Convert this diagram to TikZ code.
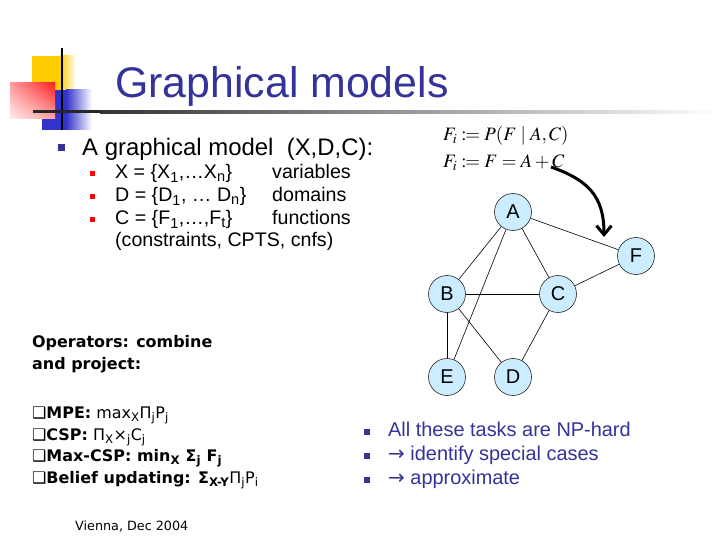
\documentclass[tikz,border=0pt]{standalone}
\usepackage{mathptmx}
\usepackage{mathtools}
\usepackage[no-math]{fontspec}
\setmainfont{Liberation Sans}
\newfontfamily\verdfont{DejaVu Sans}
\usetikzlibrary{arrows.meta, positioning, shadings}
\definecolor{slidenavy}{HTML}{333399}
\definecolor{vertexfill}{HTML}{CCECFF}
\definecolor{logoyellow}{HTML}{FFCC00}
\definecolor{logored}{HTML}{FF2020}
\definecolor{logoblue}{HTML}{3333CC}

\begin{document}
\begin{tikzpicture}[
  x=1bp, y=-1bp,
  vertex/.style={circle, draw=black!85, line width=0.6bp, fill=vertexfill,
    minimum size=37bp, inner sep=0pt, font=\fontsize{20}{20}\selectfont},
  link/.style={line width=0.6bp},
  bodytext/.style={anchor=base west, inner sep=0pt, font=\fontsize{19.7}{22}\selectfont},
  toptext/.style={bodytext, font=\fontsize{24}{28}\selectfont},
  navytext/.style={bodytext, text=slidenavy, font=\fontsize{20}{24}\selectfont},
  optext/.style={anchor=base west, inner sep=0pt, font=\verdfont\fontsize{16}{19}\selectfont},
  formula/.style={anchor=base west, inner sep=0pt, font=\fontsize{19}{22}\selectfont},
  navybullet/.style={fill=slidenavy},
]
\useasboundingbox (0,0) rectangle (720,540);
\fill[white] (0,0) rectangle (720,540);

% Logo in the corner
\fill[logoyellow] (32,56) rectangle (60,90);
\shade[left color=logoyellow, right color=white] (60,56) rectangle (76,90);
\fill[logoblue] (42,90) rectangle (66,130);
\shade[left color=logoblue, right color=white] (66,90) rectangle (92,130);
\shade[upper left=logored!45, upper right=logored, lower left=logored!8, lower right=logored!40]
  (10,83) rectangle (55,119);
\draw[line width=2.5bp] (62,48) -- (62,130);
\fill[black!85] (33,110.5) rectangle (100,113.5);
\shade[left color=black!80, right color=white] (100,110.5) rectangle (720,113.5);

% Title
\node[anchor=base west, inner sep=0pt, text=slidenavy, font=\fontsize{43}{43}\selectfont]
  (title) at (115,98) {Graphical models};

% Definition of the model
\fill[navybullet] (58,144) rectangle (65,151);
\node[toptext] (gm) at (82,156) {A graphical model\ \ (X,D,C):};
\foreach \y in {179,202,225}
  \fill[red] (90,\y-8) rectangle (95,\y-3);
\node[bodytext] (xset) at (115,179) {X = \{X\textsubscript{1},…X\textsubscript{n}\}};
\node[bodytext] (xrole) at (272,179) {variables};
\node[bodytext] (dset) at (115,202) {D = \{D\textsubscript{1}, … D\textsubscript{n}\}};
\node[bodytext] (drole) at (272,202) {domains};
\node[bodytext] (cset) at (115,225) {C = \{F\textsubscript{1},…,F\textsubscript{t}\}};
\node[bodytext] (crole) at (272,225) {functions};
\node[bodytext] (cnote) at (115,247) {(constraints, CPTS, cnfs)};

% Functions on F
\node[formula] (fprob) at (443,141) {$F_i \coloneqq P(F\mid A,C)$};
\node[formula] (fsum) at (443,168) {$F_i \coloneqq F = A+C$};

% Graph
\node[vertex] (A) at (513,212) {A};
\node[vertex] (F) at (636,256) {F};
\node[vertex] (B) at (447,294) {B};
\node[vertex] (C) at (558,294) {C};
\node[vertex] (E) at (447,377) {E};
\node[vertex] (D) at (513,377) {D};
\draw[link] (A) -- (B);
\draw[link] (A) -- (E);
\draw[link] (A) -- (C);
\draw[link] (A) -- (F);
\draw[link] (F) -- (C);
\draw[link] (B) -- (C);
\draw[link] (B) -- (E);
\draw[link] (B) -- (D);
\draw[link] (C) -- (D);

\coordinate (tailpt) at (551,167);
\coordinate (tippt) at (604,237);
\draw[line width=3bp, -{Straight Barb[length=9bp, width=15bp]}]
  (tailpt) .. controls (588,180) and (604,196) .. (tippt);

% Operators
\node[optext, font=\verdfont\bfseries\fontsize{16}{19}\selectfont] (ops) at (32,347) {Operators: combine};
\node[optext, font=\verdfont\bfseries\fontsize{16}{19}\selectfont] (opsb) at (32,369) {and project:};
\node[optext] (mpe) at (32,418) {❑\textbf{MPE:} max\textsubscript{X}Π\textsubscript{j}P\textsubscript{j}};
\node[optext] (csp) at (32,440) {❑\textbf{CSP:} Π\textsubscript{X}×\textsubscript{j}C\textsubscript{j}};
\node[optext] (maxcsp) at (32,461) {❑\textbf{Max-CSP: min\textsubscript{X} Σ\textsubscript{j} F\textsubscript{j}}};
\node[optext] (belief) at (32,483) {❑\textbf{Belief updating: Σ\textsubscript{X-Y}}Π\textsubscript{j}P\textsubscript{i}};

% Complexity
\foreach \y in {436,460,484}
  \fill[navybullet] (364,\y-7) rectangle (370,\y-1);
\node[navytext] (nphard) at (388,436) {All these tasks are NP-hard};
\node[navytext] (special) at (388,460) {{\verdfont →} identify special cases};
\node[navytext] (approx) at (388,484) {{\verdfont →} approximate};

\node[anchor=base west, inner sep=0pt, font=\verdfont\fontsize{12.8}{15}\selectfont]
  (venue) at (75,530) {Vienna, Dec 2004};
\end{tikzpicture}
\end{document}
